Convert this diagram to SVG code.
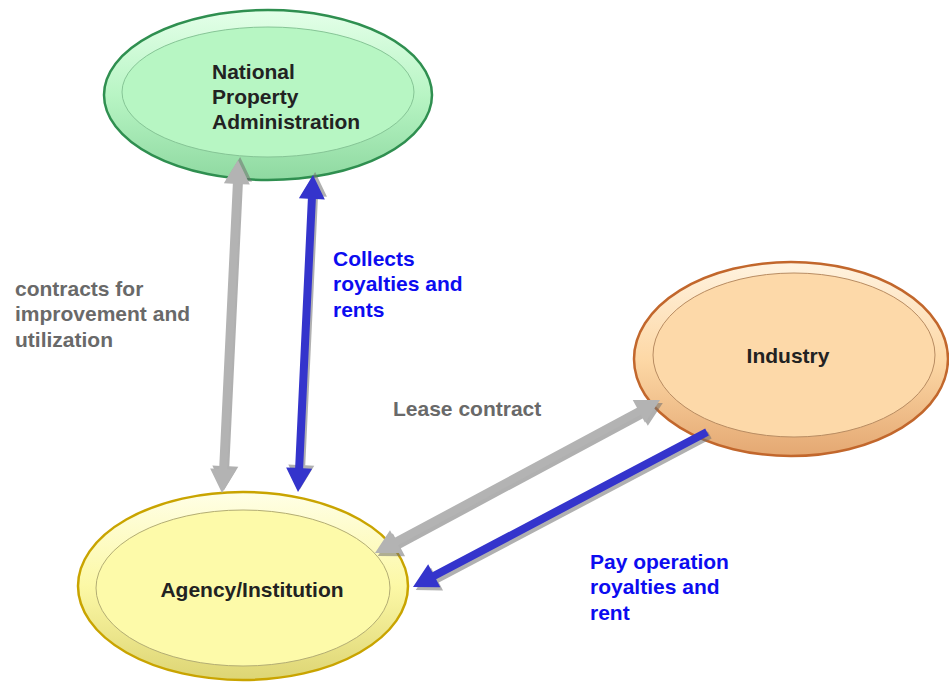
<svg xmlns="http://www.w3.org/2000/svg" width="949" height="682" viewBox="0 0 949 682">
<defs>
<linearGradient id="gGreen" x1="0" y1="0" x2="0" y2="1">
<stop offset="0" stop-color="#e4ffe9"/><stop offset="0.5" stop-color="#b8f5c4"/><stop offset="1" stop-color="#8fd9a1"/>
</linearGradient>
<linearGradient id="gOrange" x1="0" y1="0" x2="0" y2="1">
<stop offset="0" stop-color="#fff3e0"/><stop offset="0.5" stop-color="#fdd8a6"/><stop offset="1" stop-color="#e4a872"/>
</linearGradient>
<linearGradient id="gYellow" x1="0" y1="0" x2="0" y2="1">
<stop offset="0" stop-color="#ffffe6"/><stop offset="0.5" stop-color="#fcf8a6"/><stop offset="1" stop-color="#ddd574"/>
</linearGradient>
</defs>
<style>
.lbl{font-family:"Liberation Sans",Arial,sans-serif;font-weight:bold;font-size:21px}
.node{fill:#222222}
.gray{fill:#696969}
.blue{fill:#0c0cf0}
.shadow{fill:#6f6f6f;opacity:0.55}
.ga{fill:#b3b3b3}
.ba{fill:#3434cc}
</style>
<g id="national-property-administration">
<ellipse cx="268" cy="95" rx="164" ry="85" fill="url(#gGreen)" stroke="#2f8f50" stroke-width="2.5"/>
<ellipse cx="268" cy="92" rx="146" ry="65" fill="#b7f6c3" stroke="#86c596" stroke-width="1"/>
<text class="lbl node" x="212" y="79">National</text>
<text class="lbl node" x="212" y="104">Property</text>
<text class="lbl node" x="212" y="129">Administration</text>
</g>
<g id="industry">
<ellipse cx="791" cy="359" rx="157" ry="97" fill="url(#gOrange)" stroke="#c2672c" stroke-width="2.5"/>
<ellipse cx="794" cy="355" rx="141" ry="82" fill="#fdd9a9" stroke="#b88c62" stroke-width="1"/>
<text class="lbl node" x="788" y="363" text-anchor="middle">Industry</text>
</g>
<g id="agency-institution">
<ellipse cx="243" cy="586" rx="165" ry="94" fill="url(#gYellow)" stroke="#c9a400" stroke-width="2.5"/>
<ellipse cx="243" cy="588" rx="147" ry="78" fill="#fdfaa9" stroke="#b3ad74" stroke-width="1"/>
<text class="lbl node" x="252" y="597" text-anchor="middle">Agency/Institution</text>
</g>
<g id="connectors">
<g transform="translate(222,493) rotate(-87.25)">
<path class="shadow" transform="translate(3,2)" d="M0,0 L24,-13 L24,-4 L309.4,-4 L309.4,-13 L333.4,0 L309.4,13 L309.4,4 L24,4 L24,13 Z"/>
<path class="ga" d="M0,0 L24,-13 L24,-4 L309.4,-4 L309.4,-13 L333.4,0 L309.4,13 L309.4,4 L24,4 L24,13 Z"/>
</g>
<g transform="translate(298,492) rotate(-87.29)">
<path class="shadow" transform="translate(3,2)" d="M0,0 L24,-13 L24,-4 L293.4,-4 L293.4,-13 L317.4,0 L293.4,13 L293.4,4 L24,4 L24,13 Z"/>
<path class="ba" d="M0,0 L24,-13 L24,-4 L293.4,-4 L293.4,-13 L317.4,0 L293.4,13 L293.4,4 L24,4 L24,13 Z"/>
</g>
<g transform="translate(375,553) rotate(-28.23)">
<path class="shadow" transform="translate(1,4)" d="M0,0 L24,-13 L24,-4 L299.5,-4 L299.5,-13 L323.5,0 L299.5,13 L299.5,4 L24,4 L24,13 Z"/>
<path class="ga" d="M0,0 L24,-13 L24,-4 L299.5,-4 L299.5,-13 L323.5,0 L299.5,13 L299.5,4 L24,4 L24,13 Z"/>
</g>
<g transform="translate(413,587) rotate(-27.80)">
<path class="shadow" transform="translate(1,4)" d="M0,0 L24,-13 L24,-4 L332.4,-4 L332.4,4 L24,4 L24,13 Z"/>
<path class="ba" d="M0,0 L24,-13 L24,-4 L332.4,-4 L332.4,4 L24,4 L24,13 Z"/>
</g>
</g>
<g id="labels">
<text class="lbl gray" x="15" y="296">contracts for</text>
<text class="lbl gray" x="15" y="321">improvement and</text>
<text class="lbl gray" x="15" y="347">utilization</text>
<text class="lbl blue" x="333" y="266">Collects</text>
<text class="lbl blue" x="333" y="291">royalties and</text>
<text class="lbl blue" x="333" y="317">rents</text>
<text class="lbl gray" x="393" y="416">Lease contract</text>
<text class="lbl blue" x="590" y="569">Pay operation</text>
<text class="lbl blue" x="590" y="594">royalties and</text>
<text class="lbl blue" x="590" y="620">rent</text>
</g>
</svg>
